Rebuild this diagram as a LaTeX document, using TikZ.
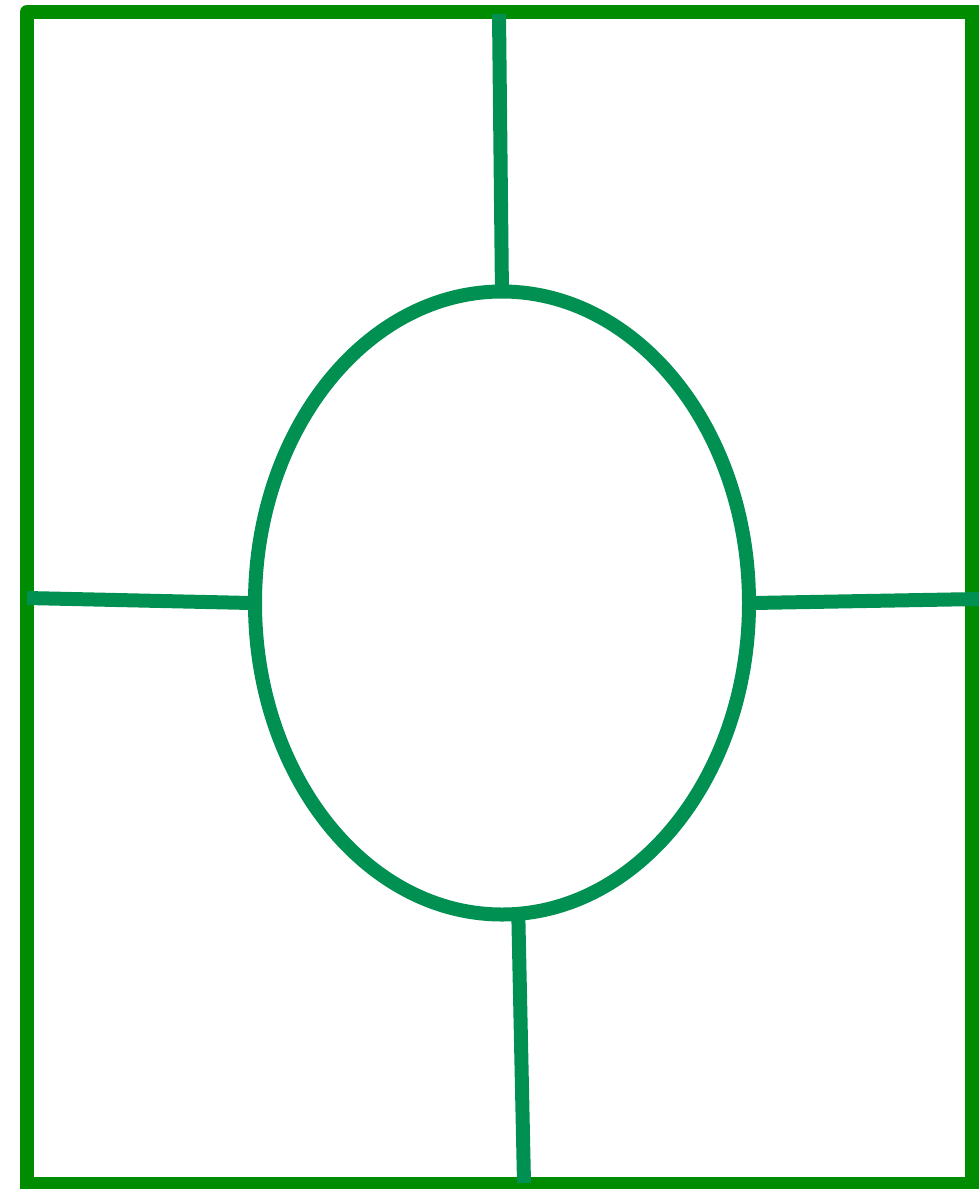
\documentclass[tikz,border=0pt]{standalone}
\usetikzlibrary{shapes.geometric}
\definecolor{framegreen}{RGB}{0,140,0}
\definecolor{linegreen}{RGB}{0,144,82}
\tikzset{
  framestyle/.style={draw=framegreen,line width=14pt,line cap=round,line join=miter},
  ovalstyle/.style={ellipse,draw=linegreen,line width=14pt,minimum width=494pt,minimum height=623pt,inner sep=0pt,outer sep=0pt},
  connstyle/.style={draw=linegreen,line width=14pt,line cap=butt}
}
\begin{document}
\begin{tikzpicture}[x=1pt,y=-1pt]
\useasboundingbox (0,0) rectangle (979,1189);
\coordinate (tl) at (27,12);
\coordinate (tr) at (972,12);
\coordinate (br) at (972,1184);
\coordinate (bl) at (27,1184);
\draw[framestyle] (tl) -- (tr) -- (br) -- (bl) -- (tl);
\node[ovalstyle] (e) at (502,603) {};
\coordinate (ctop) at (499,14);
\coordinate (cleft) at (27,598);
\coordinate (cright) at (979,599);
\coordinate (cbot) at (524,1183);
\draw[connstyle] (ctop) -- ([yshift=-4pt]e.north);
\draw[connstyle] (cleft) -- ([xshift=-4pt]e.west);
\draw[connstyle] ([xshift=4pt]e.east) -- (cright);
\draw[connstyle] (e.-87) -- (cbot);
\end{tikzpicture}
\end{document}
